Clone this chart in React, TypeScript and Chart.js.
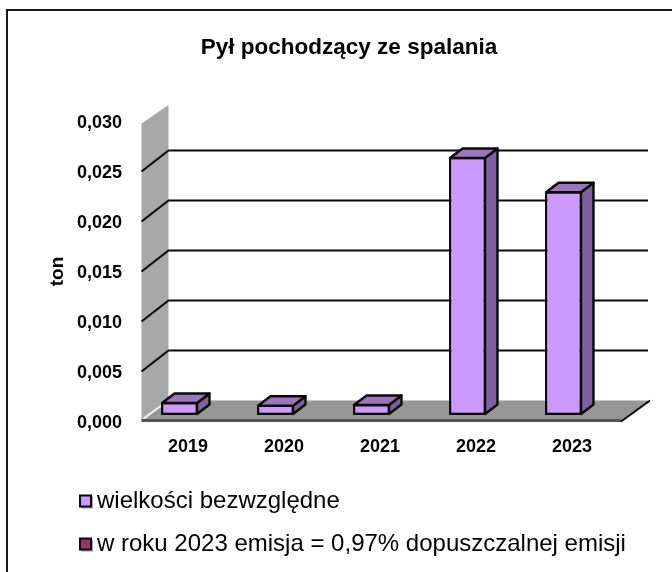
import React, { useEffect, useRef } from "react";
import { Chart, registerables } from "chart.js";

Chart.register(...registerables);

const categories = ["2019", "2020", "2021", "2022", "2023"];
const absoluteValues = [0.0013, 0.00103, 0.0011, 0.0258, 0.02237];
const noteValues: number[] = [];
const seriesLabels = ["wielkości bezwzględne", "w roku 2023 emisja = 0,97% dopuszczalnej emisji"];
const titleText = "Pył pochodzący ze spalania";
const axisTitle = "ton";
const FONT = "'Liberation Sans', Arial, sans-serif";

const FRONT = "#cc99ff";
const NOTE = "#993366";
const TOP = "#9b76bf";
const SIDE = "#7f5f9f";
const WALL = "#a8a8a8";
const FLOOR = "#969696";
const FLOOR_EDGE = "#555555";
const LINE = "#0a0a0a";
const SWATCHES = [FRONT, NOTE];

const plugin3d = {
  id: "plugin3d",
  afterLayout(chart: any) {
    chart.titleBlock.left += 18;
    chart.legend.right = 672;
  },
  beforeDraw(chart: any) {
    const { ctx } = chart;
    ctx.save();
    ctx.strokeStyle = "#1a1a1a";
    ctx.lineWidth = 2;
    ctx.beginPath();
    ctx.moveTo(7, 572);
    ctx.lineTo(7, 10);
    ctx.lineTo(672, 10);
    ctx.stroke();
    ctx.restore();
  },
  beforeDatasetsDraw(chart: any) {
    const { ctx, chartArea: a, scales } = chart;
    const y = scales.y;
    const fl = a.left + 1.5;
    const bl = fl + 27;
    const bottom = y.getPixelForValue(0);
    const dy = 21;
    ctx.save();
    // side wall
    ctx.fillStyle = WALL;
    ctx.beginPath();
    ctx.moveTo(fl, a.top + 2);
    ctx.lineTo(bl, a.top - 16.5);
    ctx.lineTo(bl, bottom - dy);
    ctx.lineTo(fl, bottom - 1);
    ctx.closePath();
    ctx.fill();
    // floor
    ctx.fillStyle = FLOOR;
    ctx.beginPath();
    ctx.moveTo(fl, bottom);
    ctx.lineTo(bl, bottom - dy);
    ctx.lineTo(a.right + 30, bottom - dy);
    ctx.lineTo(a.right + 1, bottom);
    ctx.closePath();
    ctx.fill();
    // wall / floor join
    ctx.strokeStyle = "#f2f2f2";
    ctx.lineWidth = 2;
    ctx.beginPath();
    ctx.moveTo(fl + 2, bottom - 3);
    ctx.lineTo(bl, bottom - dy);
    ctx.stroke();
    // floor front edge
    ctx.strokeStyle = FLOOR_EDGE;
    ctx.lineWidth = 3;
    ctx.beginPath();
    ctx.moveTo(fl, bottom - 1);
    ctx.lineTo(a.right + 1, bottom - 1);
    ctx.stroke();
    ctx.strokeStyle = LINE;
    ctx.lineWidth = 2;
    ctx.beginPath();
    ctx.moveTo(a.right + 1, bottom);
    ctx.lineTo(a.right + 30, bottom - dy);
    ctx.stroke();
    // grid lines
    ctx.strokeStyle = LINE;
    ctx.lineWidth = 2.2;
    y.ticks.forEach((t: any) => {
      if (t.value <= 0 || t.value >= y.max) return;
      const p = y.getPixelForValue(t.value);
      ctx.beginPath();
      ctx.moveTo(fl, p);
      ctx.lineTo(bl, p - dy);
      ctx.lineTo(a.right + 28, p - dy);
      ctx.stroke();
    });
    ctx.restore();
  },
  beforeDatasetDraw(chart: any) {
    chart.ctx.save();
    chart.ctx.translate(-8.5, -6.5);
  },
  afterDatasetDraw(chart: any, args: any) {
    const { ctx } = chart;
    const meta = chart.getDatasetMeta(args.index);
    const dx = 12.5;
    const dy = 9.5;
    ctx.lineWidth = 2.4;
    ctx.strokeStyle = LINE;
    ctx.lineJoin = "round";
    meta.data.forEach((bar: any) => {
      const xl = bar.x - bar.width / 2 + 1;
      const xr = bar.x + bar.width / 2 - 1;
      const yt = bar.y + 1;
      const yb = bar.base - 1;
      ctx.fillStyle = SIDE;
      ctx.beginPath();
      ctx.moveTo(xr, yt);
      ctx.lineTo(xr + dx, yt - dy);
      ctx.lineTo(xr + dx, yb - dy);
      ctx.lineTo(xr, yb);
      ctx.closePath();
      ctx.fill();
      ctx.stroke();
      ctx.fillStyle = TOP;
      ctx.beginPath();
      ctx.moveTo(xl, yt);
      ctx.lineTo(xl + dx, yt - dy);
      ctx.lineTo(xr + dx, yt - dy);
      ctx.lineTo(xr, yt);
      ctx.closePath();
      ctx.fill();
      ctx.stroke();
    });
    ctx.restore();
  },
  afterDraw(chart: any) {
    const { ctx, legend } = chart;
    ctx.save();
    legend.legendHitBoxes.forEach((box: any, i: number) => {
      const x = box.left + 1;
      const y = box.top + 6.5;
      ctx.fillStyle = "#a0a0a0";
      ctx.fillRect(x + 1, y + 1, 12, 12);
      ctx.fillStyle = SWATCHES[i];
      ctx.strokeStyle = LINE;
      ctx.lineWidth = 2;
      ctx.fillRect(x, y, 11, 11);
      ctx.strokeRect(x, y, 11, 11);
    });
    ctx.restore();
  },
};

export default function App() {
  const ref = useRef<HTMLCanvasElement>(null);
  useEffect(() => {
    const chart = new Chart(ref.current as HTMLCanvasElement, {
      type: "bar",
      data: {
        labels: categories,
        datasets: [
          { label: seriesLabels[0], data: absoluteValues, backgroundColor: FRONT, borderColor: LINE, borderWidth: 2.4, borderSkipped: false, clip: false as any },
          { label: seriesLabels[1], data: noteValues, backgroundColor: NOTE, borderColor: LINE, borderWidth: 2.4, borderSkipped: false, clip: false as any },
        ],
      },
      plugins: [plugin3d],
      options: {
        responsive: false,
        animation: false,
        grouped: false,
        categoryPercentage: 1,
        barPercentage: 0.385,
        layout: { padding: { left: 60, right: 52, top: 0, bottom: 6 } },
        plugins: {
          tooltip: { enabled: false },
          title: {
            display: true,
            text: titleText,
            color: "#000",
            font: { family: FONT, size: 22.5, weight: "bold" },
            padding: { top: 34.5, bottom: 60 },
          },
          legend: {
            position: "bottom",
            align: "start",
            labels: {
              color: "#000",
              font: { family: FONT, size: 24 },
              boxWidth: 6,
              padding: 19,
              generateLabels: (c: any) =>
                Chart.defaults.plugins.legend.labels.generateLabels(c).map((l: any) => ({
                  ...l,
                  fillStyle: "transparent",
                  strokeStyle: "transparent",
                  lineWidth: 0,
                })),
            },
          },
        },
        scales: {
          x: {
            grid: { display: false, drawTicks: false },
            border: { display: false },
            ticks: { color: "#000", padding: 14.5, font: { family: FONT, size: 18, weight: "bold" }, maxRotation: 0, autoSkip: false },
            afterFit: (s: any) => { s.height = 48.5; },
          },
          y: {
            min: 0,
            max: 0.03,
            grid: { display: false, drawTicks: false },
            border: { display: false },
            ticks: {
              stepSize: 0.005,
              color: "#000",
              padding: 18,
              labelOffset: 2,
              font: { family: FONT, size: 18, weight: "bold" },
              callback: (v: any) => Number(v).toFixed(3).replace(".", ","),
            },
            title: {
              display: true,
              text: axisTitle,
              color: "#000",
              font: { family: FONT, size: 19, weight: "bold" },
              padding: { top: -13.4, bottom: 0 },
            },
            afterFit: (s: any) => { s.width = 80; },
          },
        },
      } as any,
    });
    return () => chart.destroy();
  }, []);
  return (
    <canvas
      ref={ref}
      width={672}
      height={572}
      style={{ position: "absolute", left: 0, top: 0, width: 672, height: 572 }}
    />
  );
}
